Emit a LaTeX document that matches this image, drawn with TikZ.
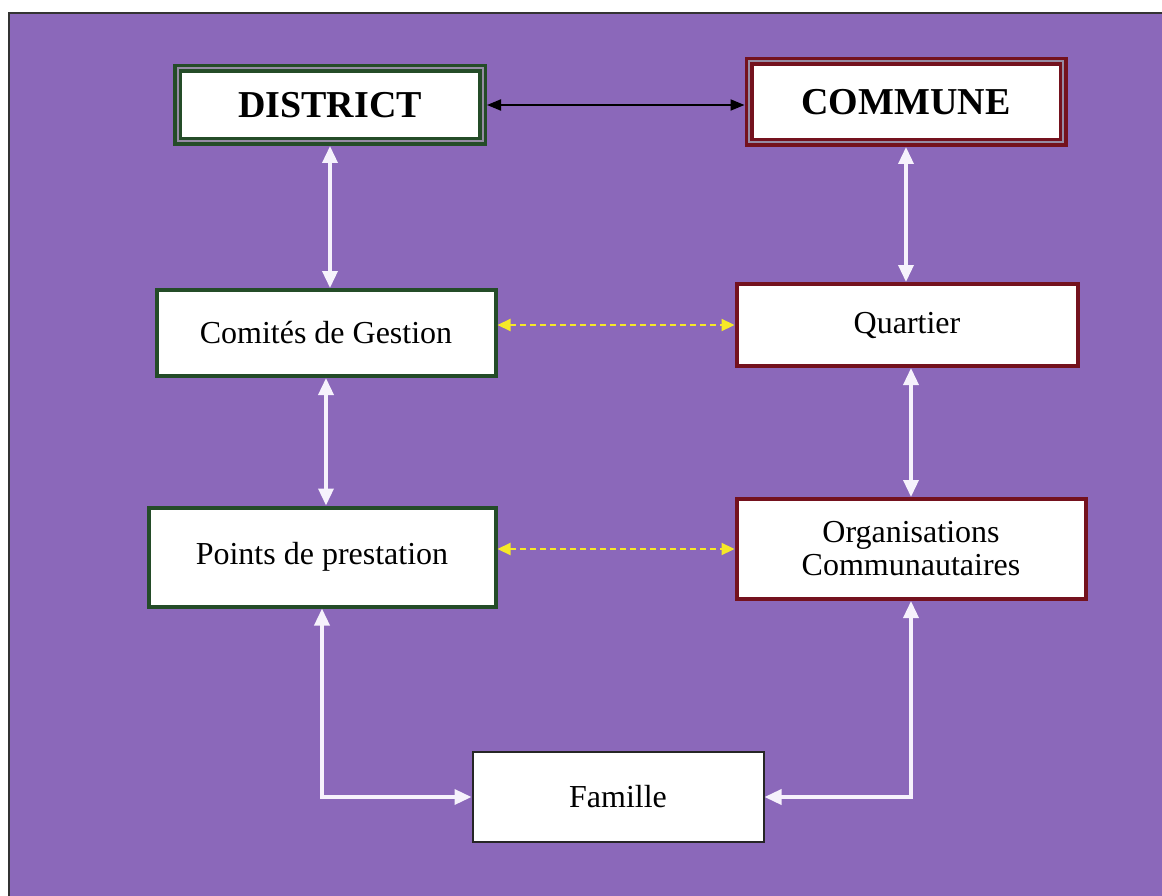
\documentclass[tikz,border=0pt]{standalone}
\usepackage{fontspec}
\setmainfont{Liberation Serif}
\usetikzlibrary{arrows.meta,calc,positioning}
\definecolor{fondviolet}{RGB}{139,104,186}
\definecolor{vertfonce}{RGB}{36,76,40}
\definecolor{rougefonce}{RGB}{116,18,30}
\definecolor{jaune}{RGB}{246,232,40}
\definecolor{gris}{RGB}{150,140,165}
\definecolor{blanccasse}{RGB}{246,242,252}
\tikzset{
  boite/.style={fill=white, align=center, inner sep=0pt, font=\fontsize{32}{33}\selectfont},
  boitevert/.style={boite, draw=vertfonce, line width=4pt},
  boiterouge/.style={boite, draw=rougefonce, line width=4pt},
  titre/.style={font=\fontsize{38}{38}\selectfont\bfseries, line width=3.5pt, double=gris, double distance=2pt, outer sep=4.5pt},
  lien/.style={{Triangle[length=17pt,width=15pt]}-{Triangle[length=17pt,width=15pt]}, blanccasse, line width=3.5pt},
  pointille/.style={{Triangle[length=13pt,width=12pt]}-{Triangle[length=13pt,width=12pt]}, jaune, line width=2.2pt, dash pattern=on 6pt off 4pt},
}

\begin{document}
\begin{tikzpicture}[x=1pt,y=-1pt]
\useasboundingbox (0,0) rectangle (1162,896);
\fill[fondviolet] (9,13) rectangle (1162,896);
\draw[line width=2pt, black!80] (9,896) -- (9,13) -- (1162,13);

\node[boitevert, titre, minimum width=305pt, minimum height=73pt] (district) at (330,105) {DISTRICT};
\node[boiterouge, titre, minimum width=314pt, minimum height=81pt] (commune) at (906,102) {COMMUNE};
\node[boitevert, minimum width=339pt, minimum height=86pt] (comites) at (326,333) {Comités de Gestion};
\node[boiterouge, minimum width=341pt, minimum height=82pt] (quartier) at (907,325) {Quartier};
\node[boitevert, minimum width=347pt, minimum height=99pt] (points) at (322,557) {Points de prestation};
\node[boiterouge, minimum width=349pt, minimum height=100pt] (orgs) at (911,549) {Organisations\\Communautaires};
\node[boite, draw=black!85, line width=2pt, minimum width=291pt, minimum height=90pt] (famille) at (618,797) {Famille};

\draw[{Triangle[length=14pt,width=11pt]}-{Triangle[length=14pt,width=11pt]}, black, line width=2pt] (district.east) -- (district.east -| commune.west);
\draw[lien] (district.south) -- (district.south |- comites.north);
\draw[lien] (commune.south) -- (commune.south |- quartier.north);
\draw[lien] (comites.south) -- (comites.south |- points.north);
\draw[lien] (quartier.south -| orgs.north) -- (orgs.north);
\draw[pointille] (quartier.west -| comites.east) -- (quartier.west);
\draw[pointille] (orgs.west -| points.east) -- (orgs.west);
\draw[lien] (points.south) |- (famille.west);
\draw[lien] (orgs.south) |- (famille.east);
\end{tikzpicture}
\end{document}
